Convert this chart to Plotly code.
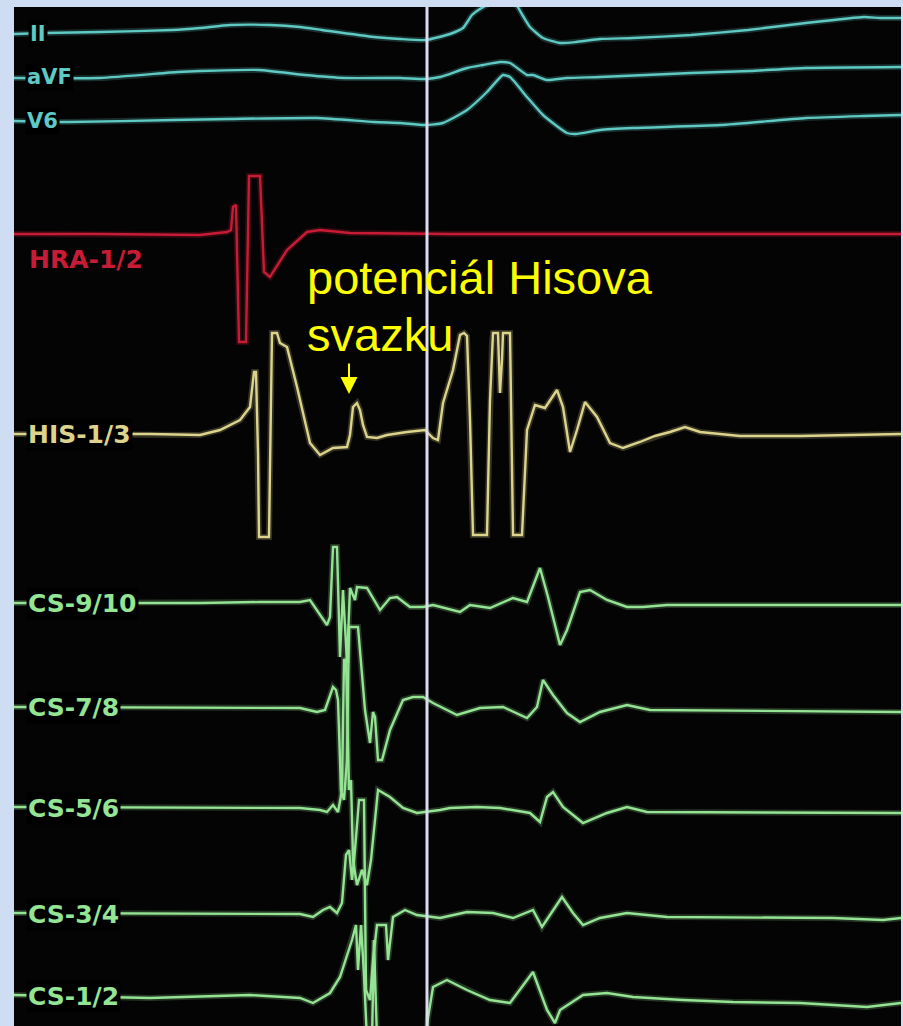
import plotly.graph_objects as go

# ---------------- data (time axis in ms-like units, amplitudes relative to each channel baseline, + = up)
ii_t   = [14, 45, 100, 173, 200, 230, 270, 300, 322, 374, 400, 426, 450, 463, 472, 480, 487, 500, 510, 517, 523, 530, 543, 560, 576, 600, 633, 691, 748, 806, 864, 880, 901]
ii_v   = [0, 1, 2, 4, 6, 9, 9, 7, 4, -3, -5, -6, 0, 6, 19, 25, 29, 34, 32, 28, 18, 7, -4, -9, -8, -5, -4, -1, 4, 11, 17, 16, 16]

avf_t  = [14, 100, 178, 200, 259, 305, 345, 400, 426, 440, 467, 483, 500, 510, 527, 533, 547, 567, 600, 691, 750, 806, 901]
avf_v  = [0, 0, 6, 7, 8, 3, 0, 0, -1, 1, 10, 13, 16, 15, 3, 3, -2, 0, 1, 5, 7, 10, 11]

v6_t   = [14, 69, 173, 230, 317, 374, 400, 425, 443, 467, 487, 503, 510, 527, 543, 567, 576, 600, 633, 720, 806, 864, 901]
v6_v   = [1, 0, 2, 3, 4, 0, -1, -3, -1, 12, 30, 47, 45, 25, 7, -11, -12, -8, -6, -3, 4, 6, 7]

hra_t  = [14, 100, 200, 227, 231, 233, 236, 239, 246, 249, 260, 264, 270, 287, 307, 320, 350, 450, 901]
hra_v  = [0, 0, -1, 2, 4, 27, 29, -108, -108, 58, 58, -38, -43, -16, 2, 4, 1, 0, 0]

his_t  = [14, 150, 200, 220, 240, 250, 254, 256, 258, 259, 269, 272, 277, 280, 287, 297, 310, 320, 333, 347, 350, 353, 357, 360, 363, 367, 377, 387, 407, 425, 433, 438, 443, 453, 460, 464, 467, 470, 473, 487, 490, 492, 493, 498, 500, 502, 503, 510, 513, 522, 527, 535, 545, 557, 563, 570, 577, 585, 597, 610, 623, 640, 655, 670, 685, 700, 740, 800, 901]
his_v  = [0, 0, -1, 4, 14, 27, 62, 62, -19, -103, -103, 101, 101, 91, 87, 47, -9, -21, -14, -13, -1, 27, 31, 24, 9, -3, -4, -1, 2, 4, -4, -6, 31, 64, 99, 101, 98, 14, -101, -101, 34, 91, 101, 101, 41, 74, 101, 101, -101, -101, 4, 29, 26, 44, 27, -18, 4, 32, 17, -9, -14, -8, -2, 2, 7, 2, -2, -2, 0]

cs910_t = [14, 200, 260, 300, 310, 317, 327, 330, 333, 337, 340, 343, 347, 350, 355, 357, 367, 380, 390, 397, 410, 423, 433, 460, 470, 490, 513, 527, 540, 548, 560, 567, 580, 590, 607, 627, 643, 667, 901]
cs910_v = [0, 0, 1, 1, 3, -7, -22, -14, 56, 56, -54, 13, -60, 15, 3, 16, 15, -7, 5, 6, -4, -4, -2, -9, -2, -5, 5, 1, 35, 6, -42, -27, 11, 13, 3, -4, -4, -2, -2]

cs78_t = [14, 300, 317, 325, 333, 336, 338, 341, 344, 347, 349, 358, 365, 370, 373, 375, 378, 382, 390, 403, 413, 423, 433, 457, 480, 503, 527, 537, 543, 553, 567, 580, 600, 627, 650, 901]
cs78_v = [0, -1, -5, -3, 20, 17, 7, -83, -93, -53, 80, 80, -3, -36, -5, -10, -53, -53, -23, 7, 10, 10, 4, -8, -1, 0, -11, 0, 27, 12, -6, -15, -5, 2, -3, -5]

cs56_t = [14, 300, 320, 327, 333, 338, 342, 344, 346, 349, 351, 353, 357, 362, 367, 371, 378, 390, 403, 417, 440, 450, 477, 500, 530, 540, 547, 553, 563, 583, 607, 627, 647, 901]
cs56_v = [1, 0, -2, -4, 3, -4, 18, 148, 148, 18, 28, -52, -77, -62, -77, -52, 18, 11, 0, -5, -2, 0, 1, 0, -5, -14, 11, 16, 1, -15, -5, 1, -4, -5]

cs34_t = [14, 300, 313, 323, 330, 337, 342, 346, 349, 352, 355, 359, 364, 366, 370, 373, 377, 386, 388, 393, 405, 417, 440, 467, 493, 513, 533, 542, 562, 573, 583, 600, 627, 667, 833, 883, 901]
cs34_v = [1, 0, -3, 4, 7, 1, 11, 59, 64, 34, 64, 114, 114, -76, -86, -46, -11, -11, -46, -3, 4, -1, -4, 2, 1, -4, 4, -13, 17, 1, -11, -4, 1, -3, -4, -6, -4]

cs12_t = [14, 150, 250, 300, 313, 330, 340, 348, 352, 356, 358, 361, 364, 367, 372, 374, 377, 385, 410, 426, 428, 433, 447, 467, 490, 510, 533, 547, 555, 560, 583, 607, 633, 683, 733, 800, 867, 901]
cs12_v = [1, -2, 1, -2, -7, 3, 19, 43, 56, 71, 26, 71, 21, -44, -44, 56, -44, -49, -54, -44, -22, 9, 16, 6, -4, -7, 24, -14, -27, -14, 1, 3, -1, -4, -6, -7, -11, -7]

channel_names = ["II", "aVF", "V6", "HRA-1/2", "HIS-1/3", "CS-9/10", "CS-7/8", "CS-5/6", "CS-3/4", "CS-1/2"]
channel_data = [(ii_t, ii_v), (avf_t, avf_v), (v6_t, v6_v), (hra_t, hra_v), (his_t, his_v),
                (cs910_t, cs910_v), (cs78_t, cs78_v), (cs56_t, cs56_v), (cs34_t, cs34_v), (cs12_t, cs12_v)]

marker_time = 427
annotation_lines = ["potenciál Hisova", "svazku"]
his_potential_time = 349

# ---------------- layout / style (positions in screen-like units)
baselines = [34, 78, 122, 234, 434, 603, 707, 808, 914, 996]
CYAN, RED, HISC, GREEN = "#5fc9c4", "#c81c36", "#dcd48c", "#94e494"
colors = [CYAN, CYAN, CYAN, RED, HISC, GREEN, GREEN, GREEN, GREEN, GREEN]
shapes_line = ["spline", "spline", "spline"] + ["linear"] * 7
label_pos = [(28, 34, 21), (25, 77, 21), (25, 121, 21), (27, 259, 25), (26, 434, 25),
             (26, 603, 25), (26, 707, 25), (26, 808, 25), (26, 914, 25), (26, 996, 25)]

fig = go.Figure()
for (t, v), base, col, shp in zip(channel_data, baselines, colors, shapes_line):
    y = [a - base for a in v]
    fig.add_trace(go.Scatter(x=t, y=y, mode="lines",
                             line=dict(color=col, width=6, shape=shp, smoothing=0.5),
                             opacity=0.22, hoverinfo="skip", showlegend=False))
    fig.add_trace(go.Scatter(x=t, y=y, mode="lines",
                             line=dict(color=col, width=2.4, shape=shp, smoothing=0.5),
                             hoverinfo="skip", showlegend=False))

annotations = []
for name, col, (lx, ly, fs), base in zip(channel_names, colors, label_pos, baselines):
    annotations.append(dict(x=lx, y=-ly, xref="x", yref="y", text=f"<b>{name}</b>",
                            showarrow=False, xanchor="left", yanchor="middle",
                            font=dict(family="DejaVu Sans", size=fs, color=col),
                            bgcolor="black" if name != "HRA-1/2" else None, borderpad=1))

annotations.append(dict(x=305, y=-277, xref="x", yref="y", text=annotation_lines[0], showarrow=False,
                        xanchor="left", yanchor="middle",
                        font=dict(family="Liberation Sans", size=47, color="#ffff00")))
annotations.append(dict(x=305, y=-334, xref="x", yref="y", text=annotation_lines[1], showarrow=False,
                        xanchor="left", yanchor="middle",
                        font=dict(family="Liberation Sans", size=47, color="#ffff00")))
annotations.append(dict(x=his_potential_time, y=-394, ax=his_potential_time, ay=-362,
                        xref="x", yref="y", axref="x", ayref="y", text="", showarrow=True,
                        arrowhead=2, arrowsize=1.7, arrowwidth=2, arrowcolor="#ffff00"))

fig.update_layout(
    width=903, height=1026,
    margin=dict(l=14, r=2, t=7, b=0),
    paper_bgcolor="#cfddf3", plot_bgcolor="#040404",
    xaxis=dict(range=[14, 901], visible=False, fixedrange=True),
    yaxis=dict(range=[-1026, -7], visible=False, fixedrange=True),
    annotations=annotations,
    shapes=[dict(type="line", xref="x", yref="paper", x0=marker_time, x1=marker_time, y0=0, y1=1,
                 line=dict(color="#dcdcef", width=3))],
)

fig.write_html("out.html", config={"displayModeBar": False},
               post_script="document.body.style.margin='0';document.body.style.overflow='hidden';")
